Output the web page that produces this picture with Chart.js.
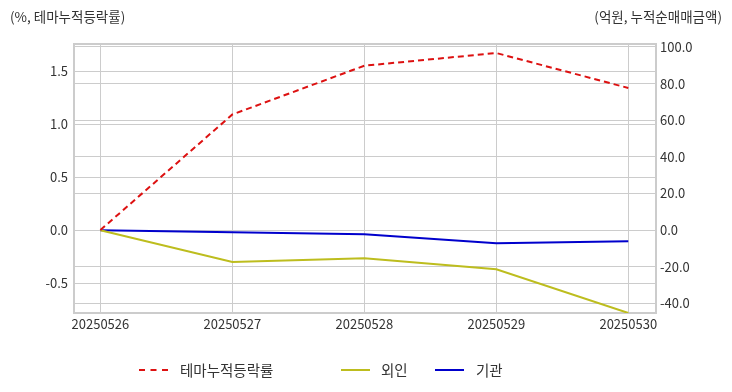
<!DOCTYPE html>
<html>
<head>
<meta charset="utf-8">
<script src="https://cdn.jsdelivr.net/npm/chart.js@4/dist/chart.umd.min.js"></script>
<style>
  body { margin: 0; background: #fff; font-family: "Noto Sans CJK KR", "Noto Sans", sans-serif; color: #333; }
  #wrap { position: relative; width: 732px; height: 392px; }
  .axis-title { position: absolute; top: 6px; font-size: 13.5px; color: #333; }
  #legend { position: absolute; top: 359px; left: 0; font-size: 14.5px; color: #333; }
  .item { position: absolute; top: 0; white-space: nowrap; }
  .swatch { position: absolute; top: 10px; width: 29px; height: 0; border-top: 2px solid; }
</style>
</head>
<body>
<div id="wrap">
  <canvas id="chart" width="732" height="392"></canvas>
  <div class="axis-title" style="left:10px">(%, 테마누적등락률)</div>
  <div class="axis-title" style="right:10px">(억원, 누적순매매금액)</div>
  <div id="legend">
    <div class="swatch" style="left:139px;border-top:2px dashed #dd1111"></div>
    <div class="item" style="left:180px">테마누적등락률</div>
    <div class="swatch" style="left:341px;border-color:#bdbd1e"></div>
    <div class="item" style="left:381px">외인</div>
    <div class="swatch" style="left:435px;border-color:#0000cc"></div>
    <div class="item" style="left:476px">기관</div>
  </div>
</div>
<script>
const dates = ["20250526", "20250527", "20250528", "20250529", "20250530"];
const themeRate = [0, 1.09, 1.55, 1.67, 1.34];
const foreign = [0, -17.4, -15.3, -21.3, -45.2];
const institution = [0, -1.1, -2.2, -7.1, -6.0];

const toPoints = arr => arr.map((v, i) => ({ x: i, y: v }));
const tickFont = { family: '"Noto Sans CJK KR", "Noto Sans", sans-serif', size: 13 };

new Chart(document.getElementById('chart'), {
  type: 'line',
  data: {
    datasets: [
      { label: '테마누적등락률', data: toPoints(themeRate), yAxisID: 'y', borderColor: '#dd1111', borderDash: [6, 4], borderWidth: 2, pointRadius: 0, tension: 0 },
      { label: '외인', data: toPoints(foreign), yAxisID: 'y1', borderColor: '#bdbd1e', borderWidth: 2, pointRadius: 0, tension: 0 },
      { label: '기관', data: toPoints(institution), yAxisID: 'y1', borderColor: '#0000cc', borderWidth: 2, pointRadius: 0, tension: 0 }
    ]
  },
  options: {
    responsive: false,
    animation: false,
    layout: { padding: { top: 44, left: 0, right: 0, bottom: 0 } },
    plugins: { legend: { display: false }, tooltip: { enabled: false } },
    scales: {
      x: {
        type: 'linear',
        min: -0.2,
        max: 4.21,
        afterBuildTicks: s => { s.ticks = dates.map((d, i) => ({ value: i })); },
        afterFit: s => { s.height = 79; },
        ticks: { color: '#333', font: tickFont, padding: 3, maxRotation: 0, callback: v => dates[v] },
        grid: { color: '#cccccc', drawTicks: false },
        border: { color: '#cccccc', width: 2 }
      },
      y: {
        position: 'left',
        min: -0.783,
        max: 1.755,
        afterBuildTicks: s => { s.ticks = [-0.5, 0, 0.5, 1.0, 1.5].map(v => ({ value: v })); },
        afterFit: s => { s.width = 74; },
        ticks: { color: '#333', font: tickFont, padding: 6, callback: v => v.toFixed(1) },
        grid: { color: '#cccccc', drawTicks: false },
        border: { color: '#cccccc', width: 2 }
      },
      y1: {
        position: 'right',
        min: -45.2,
        max: 101.6,
        afterBuildTicks: s => { s.ticks = [-40, -20, 0, 20, 40, 60, 80, 100].map(v => ({ value: v })); },
        afterFit: s => { s.width = 76; },
        ticks: { color: '#333', font: tickFont, padding: 4, callback: v => v.toFixed(1) },
        grid: { color: '#cccccc', drawTicks: false },
        border: { color: '#cccccc', width: 2 }
      }
    }
  },
  plugins: [{
    id: 'topBorder',
    afterDraw(chart) {
      const { ctx, chartArea: a } = chart;
      ctx.save();
      ctx.strokeStyle = '#cccccc';
      ctx.lineWidth = 2;
      ctx.beginPath();
      ctx.moveTo(a.left, a.top);
      ctx.lineTo(a.right, a.top);
      ctx.stroke();
      ctx.restore();
    }
  }]
});
</script>
</body>
</html>
